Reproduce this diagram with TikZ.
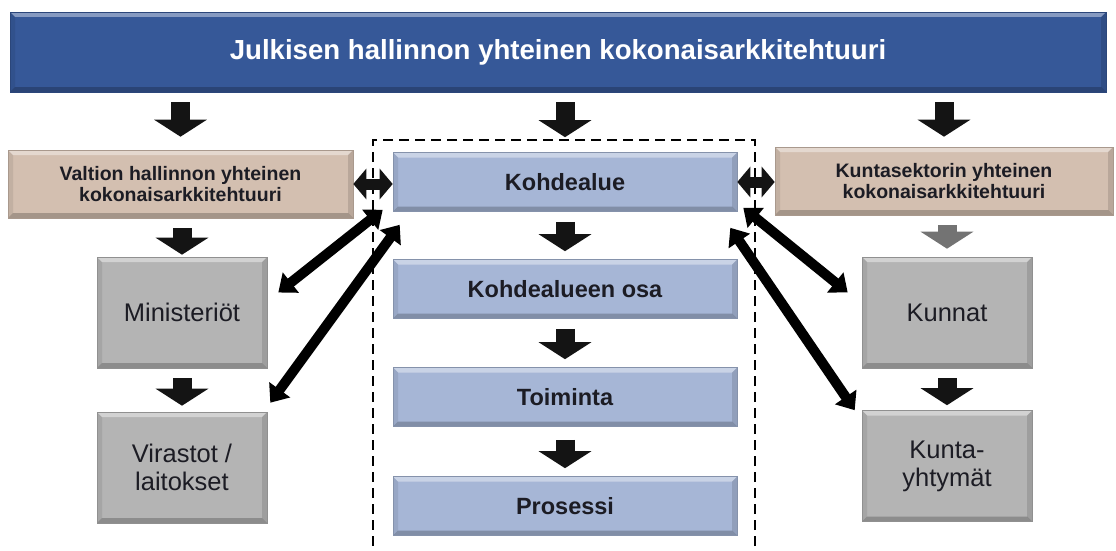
\documentclass[tikz,border=0pt]{standalone}
\usepackage{fontspec}
\setmainfont{Liberation Sans}
\usetikzlibrary{arrows.meta,calc}

\definecolor{titleblue}{HTML}{365898}
\definecolor{tanfill}{HTML}{D3BFB0}
\definecolor{bluefill}{HTML}{A6B6D6}
\definecolor{greyfill}{HTML}{B4B4B4}
\definecolor{inktext}{HTML}{1C1C24}

\begin{document}
\begin{tikzpicture}[x=1pt,y=-1pt,
  % raised look: light top edge, dark bottom edge, shaded sides
  bevel/.style={path picture={
    \fill[white,opacity=.40]
      (path picture bounding box.north west) -- (path picture bounding box.north east)
      -- ([xshift=-5pt,yshift=-5pt]path picture bounding box.north east)
      -- ([xshift=5pt,yshift=-5pt]path picture bounding box.north west) -- cycle;
    \fill[black,opacity=.22]
      (path picture bounding box.south west) -- (path picture bounding box.south east)
      -- ([xshift=-5pt,yshift=5pt]path picture bounding box.south east)
      -- ([xshift=5pt,yshift=5pt]path picture bounding box.south west) -- cycle;
    \fill[black,opacity=.08]
      (path picture bounding box.north west) -- ([xshift=5pt,yshift=-5pt]path picture bounding box.north west)
      -- ([xshift=5pt,yshift=5pt]path picture bounding box.south west) -- (path picture bounding box.south west) -- cycle;
    \fill[black,opacity=.12]
      (path picture bounding box.north east) -- ([xshift=-5pt,yshift=-5pt]path picture bounding box.north east)
      -- ([xshift=-5pt,yshift=5pt]path picture bounding box.south east) -- (path picture bounding box.south east) -- cycle;
  }},
  box/.style={bevel, align=center, inner sep=0pt, line width=.6pt},
  titlebox/.style={box, fill=titleblue, draw=titleblue!80!black, text=white,
    font=\bfseries\fontsize{27.6}{31}\selectfont},
  tanbox/.style={box, fill=tanfill, draw=tanfill!80!black, text=inktext,
    font=\bfseries\fontsize{19.5}{21}\selectfont, minimum height=68pt},
  bluebox/.style={box, fill=bluefill, draw=bluefill!80!black, text=inktext,
    font=\bfseries\fontsize{23.5}{26}\selectfont, minimum width=344pt, minimum height=59pt},
  greybox/.style={box, fill=greyfill, draw=greyfill!80!black, text=inktext,
    font=\fontsize{25.5}{28}\selectfont, minimum width=170pt, minimum height=111pt},
  frame/.style={draw=black, line width=1.8pt, dash pattern=on 10pt off 6pt, inner sep=0pt},
  % block arrows pointing down
  blk/.style={line width=19pt, draw=black!92, -{Triangle[width=52pt,length=17pt]},
    shorten <=10pt, shorten >=8pt},
  blkgrey/.style={blk, draw=black!55},
  % thick two-headed connectors
  dbl/.style={line width=11pt, draw=black!92,
    {Triangle[width=30pt,length=13pt]}-{Triangle[width=30pt,length=13pt]}},
  diag/.style={line width=10pt, draw=black,
    {Triangle[width=25pt,length=16pt]}-{Triangle[width=25pt,length=16pt]}}
]
\clip (0,0) rectangle (1116,551);
\fill[white] (0,0) rectangle (1116,551);

% ---- boxes ----
\node[titlebox, minimum width=1096pt, minimum height=80pt] (title) at (558,52)
  {Julkisen hallinnon yhteinen kokonaisarkkitehtuuri};

\node[tanbox, minimum width=345pt] (valtion) at (180.5,184)
  {Valtion hallinnon yhteinen\\kokonaisarkkitehtuuri};
\node[tanbox, minimum width=338pt] (kunta) at (944,181)
  {Kuntasektorin yhteinen\\kokonaisarkkitehtuuri};

\node[frame, minimum width=382pt, minimum height=440pt] (alue) at (564,360) {};

\node[bluebox] (kohde) at (565,182) {Kohdealue};
\node[bluebox] (osa)   at (565,289) {Kohdealueen osa};
\node[bluebox] (toim)  at (565,397) {Toiminta};
\node[bluebox] (pros)  at (565,506) {Prosessi};

\node[greybox] (min)    at (182,312.5) {Ministeriöt};
\node[greybox] (vir)    at (182,467.5) {Virastot /\\laitokset};
\node[greybox] (kunnat) at (947,312.5) {Kunnat};
\node[greybox] (kyht)   at (947,466)   {Kunta-\\yhtymät};

% ---- downward block arrows ----
\draw[blk, shorten >=13pt] (title.south -| valtion.north) -- (valtion.north);
\draw[blk, shorten >=15pt] (title.south -| kohde.north) -- (kohde.north);
\draw[blk, shorten >=10pt] (title.south -| kunta.north) -- (kunta.north);
\draw[blk, shorten >=2pt] (valtion.south -| min.north) -- (min.north);
\draw[blk, shorten >=6pt] (min.south) -- (vir.north);
\draw[blk] (kohde.south) -- (osa.north);
\draw[blk] (osa.south) -- (toim.north);
\draw[blk, shorten <=13pt] (toim.south) -- (pros.north);
\draw[blkgrey] (kunta.south -| kunnat.north) -- (kunnat.north);
\draw[blk, shorten >=5pt] (kunnat.south) -- (kyht.north);

% ---- horizontal two-headed arrows ----
\draw[dbl] (valtion.east) -- (valtion.east -| kohde.west);
\draw[dbl] (kohde.east) -- (kohde.east -| kunta.west);

% ---- diagonal two-headed arrows ----
\draw[diag] ($(kohde.south west)+(-10,-2)$) -- ($(min.east)+(11,-20)$);
\draw[diag] ($(kohde.south west)+(7,13)$) -- ($(vir.north east)+(3,-9)$);
\draw[diag] ($(kohde.south east)+(6,-4)$) -- ($(kunnat.west)+(-14,-20)$);
\draw[diag] ($(kohde.south east)+(-7,16)$) -- ($(kyht.north west)+(-7,0)$);
\end{tikzpicture}
\end{document}
